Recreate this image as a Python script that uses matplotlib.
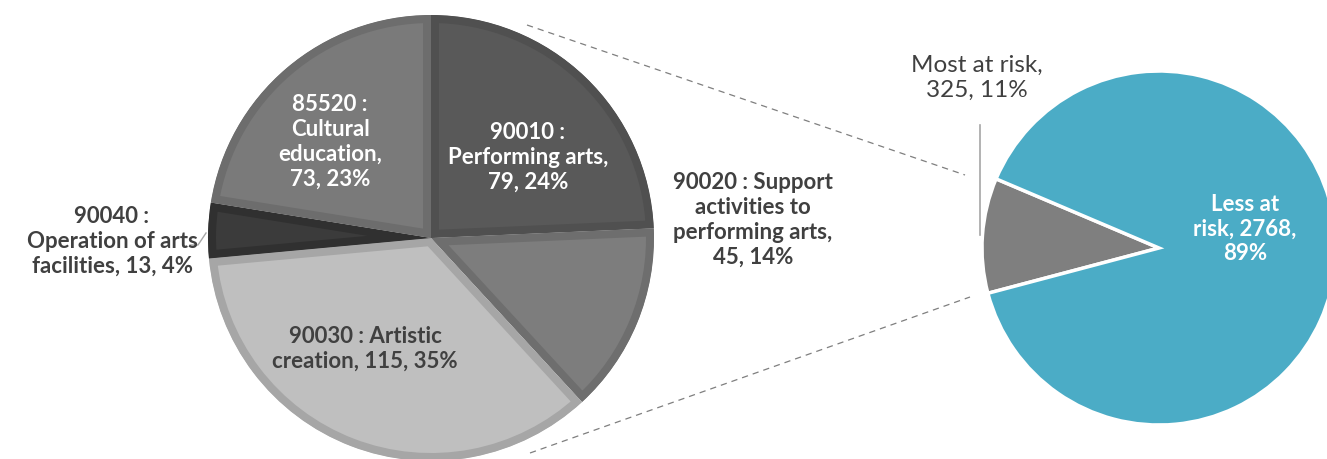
import matplotlib.pyplot as plt

plt.rcParams['font.family'] = ['Lato', 'DejaVu Sans']

W, H = 1327, 459

# Left pie: arts sub-sectors (the "most at risk" group)
arts_codes = ["90010", "90020", "90030", "90040", "85520"]
arts_values = [79, 45, 115, 13, 73]
arts_pcts = [24, 14, 35, 4, 23]
arts_labels = [
    "{c} :\nPerforming arts,\n{v}, {p}%",
    "{c} : Support\nactivities to\nperforming arts,\n{v}, {p}%",
    "{c} : Artistic\ncreation, {v}, {p}%",
    "{c} :\nOperation of arts\nfacilities, {v}, {p}%",
    "{c} :\nCultural\neducation,\n{v}, {p}%",
]

# Right pie: all sectors split by risk
risk_names = ["Most at risk", "Less at risk"]
risk_values = [325, 2768]
risk_pcts = [11, 89]

# styling
arts_fill = ["#595959", "#7d7d7d", "#bfbfbf", "#3b3b3b", "#7a7a7a"]
arts_edge = ["#505050", "#6e6e6e", "#a6a6a6", "#303030", "#6d6d6d"]
arts_text_pos = [(528, 157), (753, 220), (365, 349), (112, 241), (330, 142)]
arts_text_col = ["white", "#404040", "#404040", "#404040", "white"]
risk_colors = ["#7f7f7f", "#4bacc6"]

fig = plt.figure(figsize=(W / 100, H / 100), dpi=100)
ax = fig.add_axes([0, 0, 1, 1])
ax.set_xlim(0, W)
ax.set_ylim(0, H)
ax.set_aspect('equal')
ax.axis('off')

def py(y):
    # pixel row (from top) to data y
    return H - y

# left pie
wedges, _ = ax.pie(arts_values, colors=arts_fill, startangle=90, counterclock=False,
                   center=(431, py(238)), radius=223, frame=True)
for w, ec in zip(wedges, arts_edge):
    w.set_edgecolor(ec)
    w.set_linewidth(11.5)
    # keep the thick edge inside the slice (pie turns clipping off)
    w.set_clip_on(True)
    w.set_clip_path(w.get_path(), ax.transData)

for code, v, p, tmpl, pos, col in zip(arts_codes, arts_values, arts_pcts, arts_labels,
                                      arts_text_pos, arts_text_col):
    ax.text(pos[0], py(pos[1]), tmpl.format(c=code, v=v, p=p), ha='center', va='center',
            color=col, fontsize=16, fontweight='bold', linespacing=1.22)

# leader line for the small slice
ax.plot([190, 198, 206], [py(245), py(245), py(233)], color="#a6a6a6", lw=1)

# right pie
rw, _ = ax.pie(risk_values, colors=risk_colors, startangle=157, counterclock=True,
               center=(1159, py(248)), radius=177, frame=True,
               wedgeprops=dict(edgecolor='white', linewidth=2.5))
ax.set_xlim(0, W)
ax.set_ylim(0, H)
ax.axis('off')

ax.text(977, py(78), f"{risk_names[0]},\n{risk_values[0]}, {risk_pcts[0]}%", ha='center',
        va='center', color="#404040", fontsize=17.5, linespacing=1.2)
ax.plot([980, 980], [py(125), py(235)], color="#a6a6a6", lw=1.2)
less = risk_names[1].split(" at ")
ax.text(1245, py(229), f"{less[0]} at\n{less[1]}, {risk_values[1]},\n{risk_pcts[1]}%",
        ha='center', va='center', color="white", fontsize=16, fontweight='bold',
        linespacing=1.22)

# connector lines between the pies
ax.plot([527, 965], [py(25), py(175)], color="#7f7f7f", lw=0.9, ls=(0, (5, 4)))
ax.plot([530, 970], [py(453), py(297)], color="#7f7f7f", lw=0.9, ls=(0, (5, 4)))

fig.savefig("out.png", dpi=100)
